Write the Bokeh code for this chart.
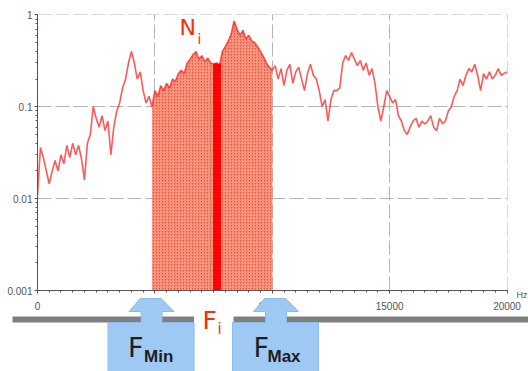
from bokeh.plotting import figure
from bokeh.models import FixedTicker, GridBox, Range1d, Column
from bokeh.core.properties import value
from bokeh.embed import file_html
from bokeh.resources import INLINE

# Spectrum N(f), sampled every 125 Hz from 0 to 20000 Hz
FREQ_STEP = 125
LEVELS = [
    0.011, 0.036, 0.028, 0.020, 0.0145, 0.020, 0.026, 0.020, 0.030, 0.024,
    0.038, 0.028, 0.040, 0.030, 0.038, 0.027, 0.016, 0.040, 0.050, 0.100,
    0.075, 0.060, 0.080, 0.055, 0.070, 0.030, 0.060, 0.090, 0.110, 0.160,
    0.200, 0.300, 0.400, 0.300, 0.200, 0.240, 0.150, 0.110, 0.130, 0.100,
    0.150, 0.130, 0.170, 0.150, 0.180, 0.160, 0.200, 0.190, 0.230, 0.250,
    0.230, 0.300, 0.330, 0.370, 0.400, 0.330, 0.360, 0.310, 0.340, 0.300,
    0.290, 0.300, 0.280, 0.400, 0.450, 0.520, 0.620, 0.860, 0.700, 0.600,
    0.680, 0.550, 0.600, 0.520, 0.500, 0.450, 0.400, 0.350, 0.300, 0.270,
    0.250, 0.280, 0.200, 0.260, 0.170, 0.250, 0.290, 0.180, 0.240, 0.270,
    0.200, 0.150, 0.230, 0.290, 0.220, 0.200, 0.150, 0.100, 0.120, 0.070,
    0.120, 0.150, 0.150, 0.160, 0.300, 0.360, 0.320, 0.390, 0.330, 0.280,
    0.320, 0.250, 0.300, 0.220, 0.260, 0.180, 0.100, 0.070, 0.100, 0.150,
    0.130, 0.110, 0.120, 0.080, 0.070, 0.055, 0.050, 0.060, 0.070, 0.075,
    0.060, 0.070, 0.065, 0.070, 0.080, 0.060, 0.055, 0.075, 0.065, 0.070,
    0.090, 0.100, 0.130, 0.150, 0.200, 0.170, 0.220, 0.260, 0.240, 0.290,
    0.220, 0.150, 0.230, 0.200, 0.240, 0.200, 0.220, 0.260, 0.220, 0.230,
    0.240,
]
FREQS = [i * FREQ_STEP for i in range(len(LEVELS))]

# Band limits and the selected line inside the band
F_MIN = 4875
F_MAX = 10000
F_I = 7650
N_I = 0.295

X_TICKS = [0, 5000, 10000, 15000, 20000]
X_TICK_LABELS = ["0", "5000", "10000", "15000", "20000"]
Y_TICKS = [0.001, 0.01, 0.1, 1]
Y_TICK_LABELS = ["0.001", "0.01", "0.1", "1"]

RED = "#ff2a00"
DARK = "#1e1e1e"
W, H = 528, 371
LEFT, RIGHT, TOP, BOTTOM = 37, 21, 14, 81

# ---- spectrum chart -------------------------------------------------------
# the ranges reach a hair past 20000 Hz and 1 so the edge grid lines show
p = figure(width=W, height=H, y_axis_type="log",
           x_range=(0, 20020), y_range=(0.001, 1.01),
           output_backend="svg", toolbar_location=None,
           min_border_left=LEFT, min_border_right=RIGHT,
           min_border_top=TOP, min_border_bottom=BOTTOM)
p.outline_line_color = None
p.background_fill_color = "white"
p.border_fill_color = "white"

p.xaxis.ticker = FixedTicker(ticks=X_TICKS,
                             minor_ticks=list(range(0, 20001, 500)))
p.xaxis.major_label_overrides = dict(zip(X_TICKS, X_TICK_LABELS))
minor_y = [m * 10.0 ** e for e in (-3, -2, -1) for m in range(2, 10)]
p.yaxis.ticker = FixedTicker(ticks=Y_TICKS, minor_ticks=minor_y)
p.yaxis.major_label_overrides = dict(zip(Y_TICKS, Y_TICK_LABELS))
for ax in (p.xaxis, p.yaxis):
    ax.axis_line_color = "#555555"
    ax.major_tick_line_color = "#555555"
    ax.minor_tick_line_color = "#555555"
    ax.major_tick_out = 3
    ax.major_tick_in = 0
    ax.minor_tick_out = 2
    ax.minor_tick_in = 0
    ax.major_label_text_font = "Liberation Sans"
    ax.major_label_text_font_size = "10px"
    ax.major_label_text_color = "#555555"
p.xaxis.major_label_standoff = 8
p.yaxis.major_label_standoff = 2

for g in (p.xgrid, p.ygrid):
    g.grid_line_color = "#b4b4b4"
    g.grid_line_dash = "14 4"
    g.grid_line_width = 1

# band between F_MIN and F_MAX, filled under the spectrum
band = [(f, v) for f, v in zip(FREQS, LEVELS) if F_MIN <= f <= F_MAX]
p.varea(x=[f for f, _ in band], y1=[0.001] * len(band),
        y2=[v for _, v in band],
        fill_color="#ff4422", fill_alpha=0.95,
        hatch_pattern="right_diagonal_line", hatch_color="white",
        hatch_scale=3, hatch_weight=1, hatch_alpha=0.6)

p.line(FREQS, LEVELS, line_color="#ff2020", line_width=1.6, line_alpha=0.75)

# the selected line F_i with amplitude N_i
p.vbar(x=[F_I], width=340, top=[N_I], bottom=[0.001],
       fill_color="#ff0000", line_color=None)

# ---- overlay with the band-limit markers (pixel coordinates, y down) -----
q = figure(width=W, height=H, x_range=Range1d(0, W), y_range=Range1d(H, 0),
           output_backend="svg", toolbar_location=None,
           x_axis_location=None, y_axis_location=None,
           min_border_left=0, min_border_right=0,
           min_border_top=0, min_border_bottom=0)
q.grid.visible = False
q.outline_line_color = None
q.background_fill_alpha = 0
q.border_fill_alpha = 0


def xpx(f):
    return LEFT + f / 20000 * (W - LEFT - RIGHT)


# grey rail under the axis, interrupted around F_i
cmin, cmax = xpx(F_MIN), xpx(F_MAX) + 4
q.quad(left=[12, cmax - 43], right=[cmin + 42, W + 2],
       top=[316, 316], bottom=[322, 322],
       fill_color="#7f7f7f", line_color=None)


def block_arrow(cx):
    xs = [cx - 44, cx + 42, cx + 42, cx + 10, cx + 10, cx + 22, cx + 9,
          cx - 12, cx - 23, cx - 11, cx - 11, cx - 44]
    ys = [H + 2, H + 2, 322, 322, 311, 311, 298, 298, 311, 311, 322, 322]
    return xs, ys


arrows = [block_arrow(cmin), block_arrow(cmax)]
q.patches(xs=[a[0] for a in arrows], ys=[a[1] for a in arrows],
          fill_color="#9ec9f2", line_color="#8dbbe8", line_width=1)


def label(x, y, text, size, color, font="DejaVu Sans", style="normal"):
    q.text(x=[x], y=[y], text=[text], text_font=value(font),
           text_font_size=value(size), text_color=color,
           text_font_style=style,
           text_baseline="alphabetic", text_align="left")


label(cmin - 24, 347, "F", "27px", DARK)
label(cmin - 8, 356, "Min", "17px", DARK, "Liberation Sans", "bold")
label(cmax - 23, 347, "F", "27px", DARK)
label(cmax - 9, 356, "Max", "17px", DARK, "Liberation Sans", "bold")
label(202, 320, "F", "25px", RED)
label(217, 328, "i", "15px", RED)
label(179, 27, "N", "22px", RED)
label(197, 38, "i", "14px", RED)
label(516, 294, "Hz", "9px", "#555555", font="Liberation Sans")

# the marker overlay sits in its own column so its frame spans the canvas
layout = GridBox(children=[(p, 0, 0), (Column(children=[q]), 0, 0)])

open("out.html", "w").write(file_html(layout, INLINE))
